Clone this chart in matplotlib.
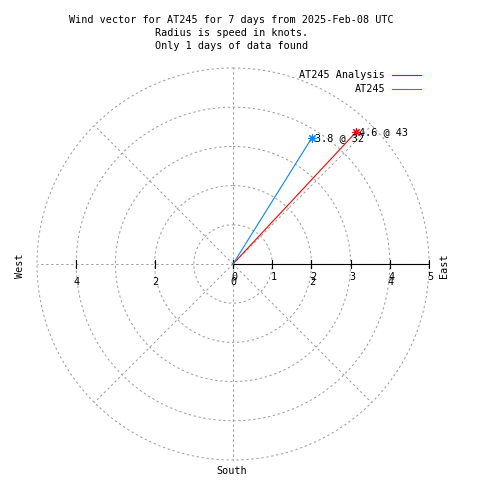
import matplotlib
matplotlib.use('Agg')
import matplotlib.pyplot as plt
import numpy as np

# Данные ветра (скорость в узлах, направление в градусах от севера)
series_names = ["AT245 Analysis", "AT245"]
speeds = [4.6, 3.8]
directions = [43, 32]
series_colors = ["#ff0000", "#0088ff"]

ring_radii = [1, 2, 3, 4, 5]
spoke_angles = [0, 45, 90, 135, 180, 225, 270, 315]
r_ticks = [0, 1, 2, 3, 4, 5]
x_ticks = [-4, -2, 0, 2, 4]
x_tick_labels = ["4", "2", "0", "2", "4"]

title_lines = [
    "Wind vector for AT245 for 7 days from 2025-Feb-08 UTC",
    "Radius is speed in knots.",
    "Only 1 days of data found",
]

FONT = "DejaVu Sans Mono"
FS = 7.3
GRID = "#a0a0a0"

# геометрия: центр в пикселях и масштаб (пикселей на узел)
cx, cy, unit = 233, 264, 39.2
W = H = 480

fig = plt.figure(figsize=(4.8, 4.8), dpi=100)
ax = fig.add_axes([0, 0, 1, 1])
ax.set_xlim(-cx / unit, (W - cx) / unit)
ax.set_ylim(-(H - cy) / unit, cy / unit)
ax.axis('off')

# сетка: окружности и лучи
t = np.linspace(0, 2 * np.pi, 400)
for r in ring_radii:
    ax.plot(r * np.sin(t), r * np.cos(t), color=GRID, lw=0.75,
            linestyle=(0, (2.2, 2.6)), zorder=1)
rmax = max(ring_radii)
for a in spoke_angles:
    rad = np.radians(a)
    ax.plot([0, rmax * np.sin(rad)], [0, rmax * np.cos(rad)], color=GRID,
            lw=0.75, linestyle=(0, (2.2, 2.6)), zorder=1)

# ось радиуса
ax.plot([0, max(r_ticks)], [0, 0], color='black', lw=0.8, zorder=2)
tick_h = 4 / unit
for v in r_ticks + x_ticks:
    ax.plot([v, v], [-tick_h, tick_h], color='black', lw=0.8, zorder=2)
for v in r_ticks:
    ax.text(v + 0.04, -13 / unit, str(v), ha='center', va='center',
            family=FONT, fontsize=FS)
for v, lab in zip(x_ticks, x_tick_labels):
    ax.text(v + 0.02, -18 / unit, lab, ha='center', va='center',
            family=FONT, fontsize=FS)

# векторы ветра
for name, s, d, c in zip(series_names, speeds, directions, series_colors):
    rad = np.radians(d)
    x, y = s * np.sin(rad), s * np.cos(rad)
    ax.plot([0, x], [0, y], color=c, lw=0.8, zorder=3)
    ax.plot([x], [y], marker=(8, 2, 0), ms=6, mew=0.8, color=c, zorder=4)
    ax.text(x + 3 / unit, y, f"{s} @ {d}", ha='left', va='center',
            family=FONT, fontsize=FS, zorder=5)

# легенда
for i, (name, c) in enumerate(zip(series_names, series_colors)):
    ly = (cy - 75 - 14 * i) / unit
    ax.text((385 - cx) / unit, ly, name, ha='right', va='center',
            family=FONT, fontsize=FS)
    ax.plot([(392 - cx) / unit, (421 - cx) / unit], [ly, ly], color=c, lw=0.8)

# заголовок и подписи сторон света
for i, line in enumerate(title_lines):
    fig.text(231.5 / W, 1 - (20 + 13 * i) / H, line, ha='center', va='center',
             family=FONT, fontsize=FS)
fig.text(20 / W, 1 - 266 / H, "West", rotation=90, ha='center', va='center',
         family=FONT, fontsize=FS)
fig.text(444 / W, 1 - 266 / H, "East", rotation=90, ha='center', va='center',
         family=FONT, fontsize=FS)
fig.text(232 / W, 1 - 471 / H, "South", ha='center', va='center',
         family=FONT, fontsize=FS)

fig.savefig("out.png", dpi=100, facecolor='white')
plt.close(fig)
